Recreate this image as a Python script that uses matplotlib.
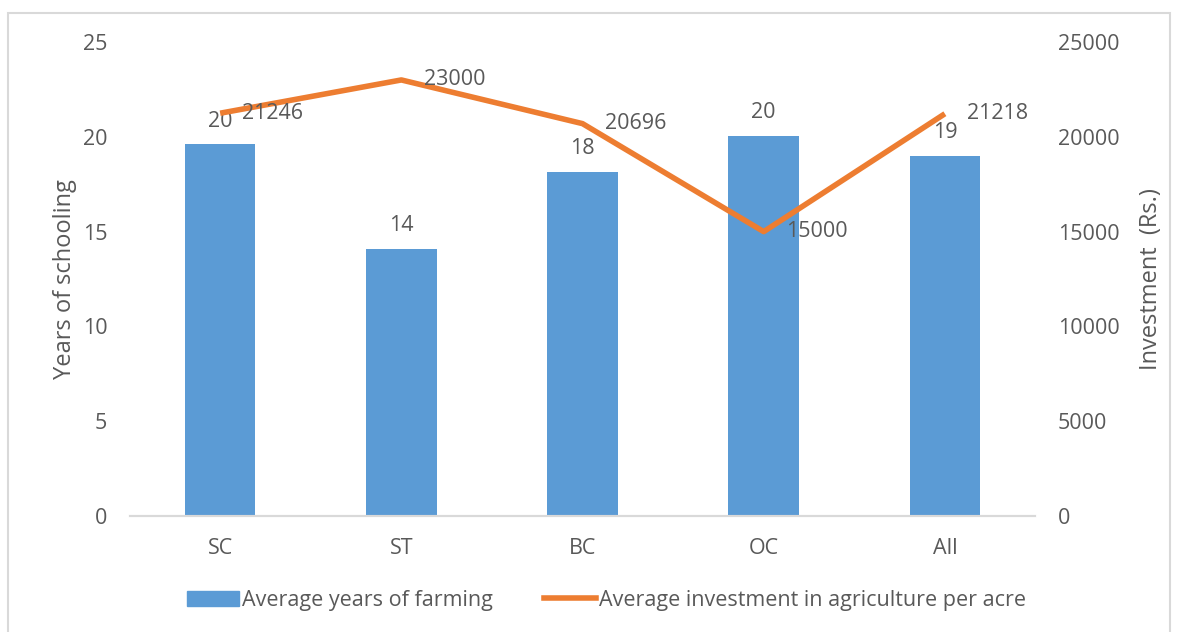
import matplotlib.pyplot as plt
from matplotlib.patches import Rectangle
from matplotlib.lines import Line2D

plt.rcParams['font.family'] = ['Open Sans', 'DejaVu Sans']

COLORS = {
    "bar": "#5b9bd5",
    "line": "#ed7d31",
    "text": "#595959",
    "axis": "#d9d9d9",
    "border": "#d9d9d9",
}

# === Data ===
categories = ["SC", "ST", "BC", "OC", "All"]
years_farming = [19.6, 14.1, 18.15, 20.05, 19.0]
years_labels = ["20", "14", "18", "20", "19"]
investment = [21246, 23000, 20696, 15000, 21218]

FS = 15.5

fig = plt.figure(figsize=(11.78, 6.32), dpi=100, facecolor="white")
fig.patches.append(Rectangle((0.007, -0.01), 0.986, 0.99, transform=fig.transFigure,
                             fill=False, edgecolor=COLORS["border"], lw=1.5))

ax = fig.add_axes([0.110, 0.1835, 0.769, 0.75])
ax2 = ax.twinx()

x = list(range(len(categories)))
ax.bar(x, years_farming, width=0.39, color=COLORS["bar"], zorder=2)
ax2.plot(x, investment, color=COLORS["line"], lw=4, solid_capstyle="butt", zorder=3)

ax.set_xlim(-0.5, len(categories) - 0.5)
ax.set_ylim(0, 25)
ax2.set_ylim(0, 25000)
ax.set_yticks([0, 5, 10, 15, 20, 25])
ax2.set_yticks([0, 5000, 10000, 15000, 20000, 25000])
ax.set_xticks(x)
ax.set_xticklabels(categories)

for a in (ax, ax2):
    for side in ("top", "left", "right"):
        a.spines[side].set_visible(False)
    a.spines["bottom"].set_color(COLORS["axis"])
    a.spines["bottom"].set_linewidth(1.5)
    a.tick_params(length=0, colors=COLORS["text"], labelsize=FS)
ax.tick_params(axis="y", pad=16)
ax2.tick_params(axis="y", pad=16)
ax.tick_params(axis="x", pad=16)

ax.set_ylabel("Years of schooling", color=COLORS["text"], fontsize=17, labelpad=4)
ax2.set_ylabel("Investment  (Rs.)", color=COLORS["text"], fontsize=17, labelpad=14)

# bar data labels
for xi, v, lab in zip(x, years_farming, years_labels):
    ax.annotate(lab, (xi, v), xytext=(0, 9), textcoords="offset points",
                ha="center", va="bottom", fontsize=FS, color=COLORS["text"])

# line data labels
for xi, v in zip(x, investment):
    ax2.annotate(str(v), (xi, v), xytext=(16, 0), textcoords="offset points",
                 ha="left", va="center", fontsize=FS, color=COLORS["text"], zorder=4)

handles = [Rectangle((0, 0), 1, 1, color=COLORS["bar"]),
           Line2D([0], [0], color=COLORS["line"], lw=4)]
fig.legend(handles, ["Average years of farming", "Average investment in agriculture per acre"],
           loc="center", bbox_to_anchor=(0.515, 0.05), ncol=2, frameon=False,
           fontsize=FS, labelcolor=COLORS["text"], handlelength=2.4,
           handletextpad=0.15, columnspacing=2.4)

fig.savefig("out.png", dpi=100, facecolor="white")
